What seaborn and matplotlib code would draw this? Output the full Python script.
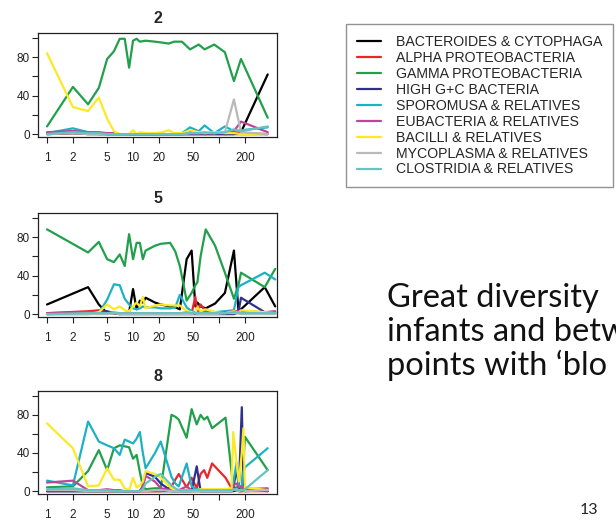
import pandas as pd
import seaborn as sns
import matplotlib.pyplot as plt

# taxa in legend order, with the colours used in the slide
taxa = ["BACTEROIDES & CYTOPHAGA", "ALPHA PROTEOBACTERIA", "GAMMA PROTEOBACTERIA",
        "HIGH G+C BACTERIA", "SPOROMUSA & RELATIVES", "EUBACTERIA & RELATIVES",
        "BACILLI & RELATIVES", "MYCOPLASMA & RELATIVES", "CLOSTRIDIA & RELATIVES"]
colors = ["#000000", "#e8262b", "#21a04b", "#2e3090", "#1db1c6", "#c1449a",
          "#fbe924", "#b9b9b9", "#66c3bf"]

# infant 2 (percent of clones, by day of life)
days_2 = [1, 2, 3, 4, 5, 6, 7, 8, 9, 10, 11, 12, 14, 18, 22, 26, 30, 37, 46, 58, 68, 88, 117, 149, 180, 368]
bact_2 = [0, 1, 0, 0, 0, 0, 0, 0, 0, 0, 0, 0, 0, 0, 0, 0, 0, 0, 0, 0, 0, 0, 0, 0, 2, 62]
alpha_2 = [0, 1, 1, 0, 0, 0, 0, 0, 0, 0, 0, 0, 0, 0, 0, 0, 0, 0, 2, 1, 0, 1, 0, 1, 1, 0]
gamma_2 = [8, 49, 31, 48, 78, 86, 99, 99, 69, 97, 99, 96, 97, 96, 95, 94, 96, 96, 88, 93, 88, 93, 85, 55, 78, 17]
highgc_2 = [1, 3, 1, 1, 0, 0, 0, 0, 0, 0, 0, 0, 0, 0, 0, 0, 0, 0, 0, 0, 0, 0, 0, 0, 0, 0]
sporo_2 = [1, 6, 2, 1, 1, 1, 0, 0, 0, 0, 0, 0, 0, 0, 0, 0, 0, 1, 7, 3, 9, 1, 8, 3, 4, 7]
eubac_2 = [2, 3, 2, 2, 1, 1, 0, 0, 0, 0, 0, 0, 0, 0, 0, 0, 0, 0, 1, 1, 1, 1, 1, 3, 13, 2]
bacil_2 = [84, 28, 24, 38, 16, 3, 0, 0, 0, 4, 0, 2, 1, 1, 2, 4, 1, 1, 4, 2, 1, 2, 1, 1, 0, 0]
myco_2 = [0, 1, 0, 0, 0, 0, 0, 0, 0, 0, 0, 0, 0, 0, 0, 0, 0, 0, 1, 1, 1, 1, 2, 36, 2, 0]
clost_2 = [0, 2, 1, 1, 0, 0, 0, 0, 0, 0, 0, 0, 0, 0, 0, 0, 0, 0, 1, 1, 2, 1, 2, 5, 3, 8]

# infant 5
days_5 = [1, 3, 4, 5, 6, 7, 8, 9, 10, 11, 12, 13, 14, 18, 21, 27, 31, 35, 42, 48, 53, 56, 61, 70, 90, 117, 149, 168, 180, 340, 450]
bact_5 = [10, 28, 10, 1, 1, 0, 1, 2, 26, 5, 14, 12, 17, 12, 10, 8, 7, 5, 57, 66, 8, 12, 8, 6, 11, 22, 66, 4, 5, 28, 8]
alpha_5 = [1, 3, 4, 2, 1, 1, 1, 1, 1, 1, 1, 1, 1, 1, 1, 1, 1, 1, 1, 1, 18, 2, 10, 3, 2, 1, 1, 1, 1, 1, 1]
gamma_5 = [88, 64, 75, 57, 54, 62, 50, 83, 57, 74, 74, 57, 66, 71, 73, 74, 65, 50, 14, 22, 30, 33, 60, 88, 71, 43, 16, 30, 43, 28, 47]
highgc_5 = [0, 1, 2, 3, 1, 0, 0, 0, 0, 0, 0, 0, 0, 0, 0, 0, 0, 0, 0, 0, 0, 0, 0, 0, 0, 0, 0, 2, 17, 2, 1]
sporo_5 = [0, 0, 1, 15, 31, 30, 16, 10, 6, 5, 6, 8, 7, 7, 6, 6, 7, 20, 7, 3, 2, 1, 1, 3, 2, 3, 4, 28, 30, 43, 36]
eubac_5 = [1, 2, 2, 1, 1, 1, 1, 1, 1, 1, 1, 1, 1, 1, 1, 1, 1, 1, 1, 2, 2, 2, 2, 2, 2, 2, 3, 3, 3, 2, 3]
bacil_5 = [0, 0, 2, 10, 5, 8, 4, 3, 8, 12, 8, 18, 6, 9, 10, 9, 9, 9, 3, 2, 1, 7, 3, 5, 2, 1, 3, 1, 4, 2, 1]
myco_5 = [0, 0, 0, 0, 1, 0, 0, 0, 0, 0, 0, 0, 0, 0, 0, 0, 0, 0, 0, 0, 1, 0, 0, 0, 0, 1, 1, 1, 0, 0, 0]
clost_5 = [0, 1, 1, 1, 2, 1, 1, 1, 1, 1, 1, 1, 1, 1, 1, 1, 1, 1, 2, 1, 1, 1, 1, 1, 1, 1, 2, 2, 1, 1, 1]

# infant 8
days_8 = [1, 2, 3, 4, 5, 6, 7, 8, 9, 10, 11, 12, 13, 14, 18, 21, 28, 31, 34, 42, 48, 55, 61, 67, 73, 83, 119, 140, 146, 160, 170, 184, 192, 200, 368]
bact_8 = [0, 0, 0, 0, 0, 0, 0, 0, 0, 0, 0, 0, 0, 0, 0, 0, 0, 0, 0, 0, 0, 0, 0, 0, 0, 0, 0, 0, 0, 1, 0, 0, 1, 0, 1]
alpha_8 = [0, 2, 0, 0, 0, 0, 0, 0, 0, 0, 0, 0, 0, 0, 0, 0, 5, 12, 18, 4, 14, 3, 18, 22, 14, 29, 14, 3, 1, 1, 0, 0, 0, 0, 0]
gamma_8 = [4, 5, 21, 43, 22, 45, 48, 47, 46, 34, 38, 20, 5, 2, 3, 3, 80, 78, 75, 56, 86, 70, 80, 75, 78, 66, 77, 20, 3, 4, 4, 3, 30, 57, 22]
highgc_8 = [0, 0, 0, 0, 0, 0, 0, 0, 0, 0, 0, 0, 5, 19, 15, 8, 0, 0, 0, 0, 0, 26, 0, 0, 0, 0, 0, 0, 2, 24, 3, 88, 10, 2, 0]
sporo_8 = [11, 6, 73, 52, 48, 45, 38, 54, 52, 50, 55, 62, 40, 24, 40, 52, 15, 8, 5, 29, 5, 2, 2, 1, 1, 1, 1, 2, 8, 30, 5, 5, 20, 25, 45]
eubac_8 = [9, 11, 1, 1, 2, 1, 1, 0, 0, 0, 0, 0, 5, 16, 10, 3, 1, 1, 1, 5, 1, 1, 1, 1, 1, 1, 1, 1, 6, 8, 4, 5, 3, 2, 3]
bacil_8 = [71, 45, 5, 6, 24, 12, 12, 3, 1, 14, 4, 6, 10, 21, 18, 14, 3, 1, 0, 1, 0, 1, 2, 2, 2, 2, 2, 3, 62, 30, 10, 40, 66, 4, 1]
myco_8 = [1, 1, 0, 0, 0, 0, 0, 0, 0, 0, 0, 0, 0, 0, 1, 1, 0, 0, 0, 0, 0, 0, 0, 0, 0, 0, 0, 0, 2, 1, 0, 1, 1, 0, 1]
clost_8 = [2, 3, 1, 1, 1, 0, 0, 0, 0, 0, 0, 0, 2, 8, 15, 18, 6, 3, 1, 1, 1, 1, 1, 1, 1, 1, 1, 1, 1, 2, 1, 1, 1, 2, 22]

panels = [
    ("2", days_2, [bact_2, alpha_2, gamma_2, highgc_2, sporo_2, eubac_2, bacil_2, myco_2, clost_2]),
    ("5", days_5, [bact_5, alpha_5, gamma_5, highgc_5, sporo_5, eubac_5, bacil_5, myco_5, clost_5]),
    ("8", days_8, [bact_8, alpha_8, gamma_8, highgc_8, sporo_8, eubac_8, bacil_8, myco_8, clost_8]),
]

x_ticks = [1, 2, 5, 10, 20, 50, 100, 200]
x_labels = ["1", "2", "5", "10", "20", "50", "", "200"]
y_ticks = [0, 20, 40, 60, 80, 100]
y_labels = ["0", "", "40", "", "80", ""]

sns.set_theme(style="ticks")
plt.rcParams["font.family"] = ["Liberation Sans", "DejaVu Sans"]

W, H = 616, 521
fig = plt.figure(figsize=(W / 100, H / 100), dpi=100)
palette = dict(zip(taxa, colors))

# axes boxes in pixels: (left, top, right, bottom)
boxes = [(38, 33, 277, 137), (38, 213, 277, 317), (38, 391, 277, 494)]

handles, labels = None, None
for (name, days, series), (l, t, r, b) in zip(panels, boxes):
    ax = fig.add_axes([l / W, 1 - b / H, (r - l) / W, (b - t) / H])
    rows = []
    for taxon, vals in zip(taxa, series):
        for d, v in zip(days, vals):
            rows.append({"day": d, "pct": v, "taxon": taxon})
    df = pd.DataFrame(rows)
    sns.lineplot(data=df, x="day", y="pct", hue="taxon", hue_order=taxa,
                 palette=palette, estimator=None, sort=False, linewidth=1.6, ax=ax)
    if handles is None:
        handles, labels = ax.get_legend_handles_labels()
    ax.get_legend().remove()
    ax.set_xscale("log")
    ax.set_xlim(0.785, 472)
    ax.set_ylim(-3, 105)
    ax.set_xticks(x_ticks)
    ax.set_xticklabels(x_labels)
    ax.minorticks_off()
    ax.set_yticks(y_ticks)
    ax.set_yticklabels(y_labels)
    ax.set_xlabel("")
    ax.set_ylabel("")
    ax.set_title(name, fontsize=11.5, fontweight="bold", pad=7)
    for s in ax.spines.values():
        s.set_color("#222222")
        s.set_linewidth(0.9)
    ax.tick_params(axis="x", length=4, width=0.8, pad=6.5, labelsize=8.5, colors="#222222")
    ax.tick_params(axis="y", length=4, width=0.8, pad=2, labelsize=8.5, colors="#222222")

leg = fig.legend(handles, labels, loc="upper left", bbox_to_anchor=(346 / W, 1 - 24 / H),
                 bbox_transform=fig.transFigure, frameon=True, fancybox=False,
                 borderaxespad=0, borderpad=0.75, handlelength=1.75, handletextpad=1.0,
                 labelspacing=0.14, fontsize=10.2)
leg.get_frame().set_edgecolor("#777777")
leg.get_frame().set_linewidth(1.0)
for line in leg.get_lines():
    line.set_linewidth(1.6)

txt_lines = ["Great diversity", "infants and betw", "points with \u2018blo"]
for i, s in enumerate(txt_lines):
    fig.text(387 / W, 1 - (307 + i * 34) / H, s, fontsize=23.5, family=["Lato", "DejaVu Sans"],
             va="baseline", ha="left", color="#111111")
fig.text(580 / W, 1 - 514 / H, "13", fontsize=11.5, family=["Lato", "DejaVu Sans"],
         va="baseline", ha="left", color="#222222")

fig.savefig("out.png", dpi=100)
